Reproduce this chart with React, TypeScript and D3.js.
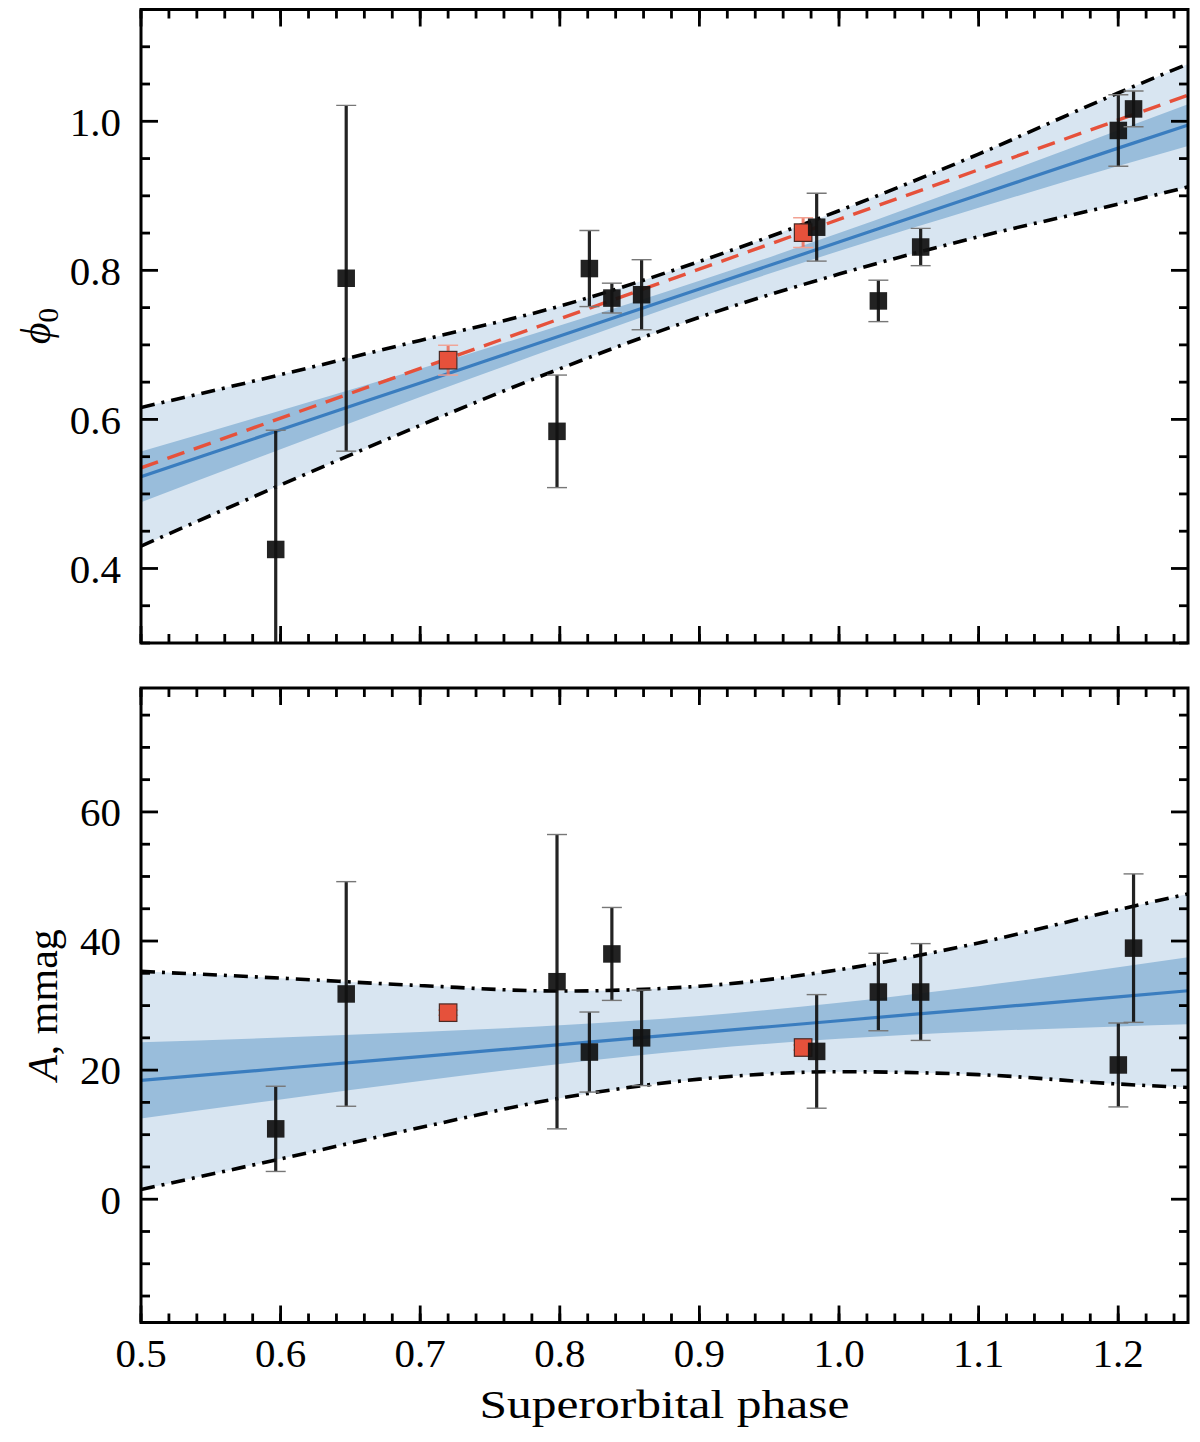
import { useEffect } from 'react';
import * as d3 from 'd3';

// measured points (black): phase, phi0 and amplitude with errors
const phase = [0.5965, 0.647, 0.798, 0.8212, 0.8373, 0.8586, 0.984, 1.0282, 1.0585, 1.2001, 1.211];
const phi0 = [0.4255, 0.7894, 0.584, 0.8024, 0.7628, 0.7673, 0.8579, 0.759, 0.8313, 0.9877, 1.0166];
const phi0Err = [0.16, 0.232, 0.0755, 0.051, 0.02, 0.047, 0.0455, 0.0278, 0.025, 0.048, 0.024];
const amp = [10.9, 31.8, 33.7, 22.8, 38.0, 25.0, 22.9, 32.1, 32.1, 20.8, 38.9];
const ampErr = [6.6, 17.4, 22.8, 6.2, 7.2, 7.4, 8.8, 6.0, 7.5, 6.5, 11.5];

// red points
const phaseRed = [0.72, 0.9743];
const phi0Red = [0.6795, 0.8506];
const phi0RedErr = [0.02, 0.02];
const ampRed = [28.9, 23.5];
const ampRedErr = [0.4, 0.4];

// fitted line and bands, read at these phases
const bandPhase = [0.5, 0.6, 0.7, 0.8, 0.9, 1.0, 1.1, 1.2, 1.25];
const phiFit = [0.523, 0.586, 0.649, 0.712, 0.775, 0.838, 0.901, 0.964, 0.995];
const phiInnerHi = [0.557, 0.612, 0.668, 0.726, 0.786, 0.85, 0.918, 0.988, 1.023];
const phiInnerLo = [0.489, 0.56, 0.63, 0.698, 0.764, 0.826, 0.884, 0.94, 0.967];
const phiOuterHi = [0.616, 0.66, 0.706, 0.752, 0.812, 0.88, 0.956, 1.038, 1.077];
const phiOuterLo = [0.43, 0.512, 0.592, 0.668, 0.737, 0.795, 0.845, 0.889, 0.912];
const redFitPhase = [0.5, 1.25];
const phiRedFit = [0.535, 1.035];

const ampFit = [18.4, 20.25, 22.1, 23.95, 25.8, 27.65, 29.5, 31.35, 32.3];
const ampInnerHi = [24.3, 25.05, 25.9, 26.95, 28.4, 30.45, 33.0, 35.95, 37.5];
const ampInnerLo = [12.5, 15.45, 18.3, 20.95, 23.2, 24.85, 26.0, 26.75, 27.1];
const ampOuterHi = [35.3, 34.25, 33.1, 32.25, 33.0, 35.55, 39.7, 44.85, 47.3];
const ampOuterLo = [1.5, 6.25, 11.1, 15.65, 18.6, 19.75, 19.3, 17.85, 17.3];

const phiMajor = [0.4, 0.6, 0.8, 1.0];
const ampMajor = [0, 20, 40, 60];

const W = 1200;
const H = 1442;
const LEFT = 141;
const RIGHT = 1188;
const FONT = '"Liberation Serif", "DejaVu Serif", serif';

const LIGHT = '#d8e5f1';
const DARK = '#99bddb';
const BLUE = '#3a7dbf';
const RED = '#e6513b';

const x = d3.scaleLinear().domain([0.5, 1.25]).range([LEFT, RIGHT]);
const xMajor = x.ticks(8);
const xMinor = d3.range(0.5, 1.2501, 0.02);

type PanelProps = {
  id: string;
  top: number;
  bottom: number;
  domain: [number, number];
  major: number[];
  minorStep: number;
  fmt: (v: number) => string;
  fit: number[];
  innerHi: number[];
  innerLo: number[];
  outerHi: number[];
  outerLo: number[];
  ys: number[];
  yErr: number[];
  redYs: number[];
  redErr: number[];
  redFit?: number[];
  showX: boolean;
};

function Panel(p: PanelProps) {
  const y = d3.scaleLinear().domain(p.domain).range([p.bottom, p.top]);
  const minor = d3
    .range(Math.ceil(p.domain[0] / p.minorStep) * p.minorStep, p.domain[1], p.minorStep)
    .filter((v) => !p.major.some((m) => Math.abs(m - v) < 1e-6));

  const line = d3
    .line<number>()
    .x((_, i) => x(bandPhase[i]))
    .y((d) => y(d))
    .curve(d3.curveMonotoneX);
  const area = (hi: number[], lo: number[]) =>
    d3
      .area<number>()
      .x((_, i) => x(bandPhase[i]))
      .y0((_, i) => y(lo[i]))
      .y1((d) => y(d))
      .curve(d3.curveMonotoneX)(hi) || '';

  const redLine = d3
    .line<number>()
    .x((_, i) => x(redFitPhase[i]))
    .y((d) => y(d));

  const cap = 10;
  const sq = 17.5;

  return (
    <g>
      <defs>
        <clipPath id={`clip-${p.id}`}>
          <rect x={LEFT} y={p.top} width={RIGHT - LEFT} height={p.bottom - p.top} />
        </clipPath>
      </defs>
      <g clipPath={`url(#clip-${p.id})`}>
        <path d={area(p.outerHi, p.outerLo)} fill={LIGHT} />
        <path d={area(p.innerHi, p.innerLo)} fill={DARK} />
        <path d={line(p.fit) || ''} fill="none" stroke={BLUE} strokeWidth={3.2} />
        {p.redFit && (
          <path d={redLine(p.redFit) || ''} fill="none" stroke={RED} strokeWidth={3.4} strokeDasharray="18,10" />
        )}
        <path d={line(p.outerHi) || ''} fill="none" stroke="#000" strokeWidth={3.6} strokeDasharray="14,7,3,7" />
        <path d={line(p.outerLo) || ''} fill="none" stroke="#000" strokeWidth={3.6} strokeDasharray="14,7,3,7" />

        {p.redYs.map((v, i) => {
          const cx = x(phaseRed[i]);
          const y1 = y(v + p.redErr[i]);
          const y0 = y(v - p.redErr[i]);
          return (
            <g key={`r${i}`}>
              <line x1={cx} x2={cx} y1={y1} y2={y0} stroke="#ee6a55" strokeWidth={3} opacity={0.85} />
              <line x1={cx - cap} x2={cx + cap} y1={y1} y2={y1} stroke="#f2a293" strokeWidth={1.4} />
              <line x1={cx - cap} x2={cx + cap} y1={y0} y2={y0} stroke="#f2a293" strokeWidth={1.4} />
              <rect x={cx - sq / 2} y={y(v) - sq / 2} width={sq} height={sq} fill={RED} stroke="#4a2a25" strokeWidth={1.2} />
            </g>
          );
        })}

        {p.ys.map((v, i) => {
          const cx = x(phase[i]);
          const y1 = y(v + p.yErr[i]);
          const y0 = y(v - p.yErr[i]);
          return (
            <g key={`b${i}`}>
              <line x1={cx} x2={cx} y1={y1} y2={y0} stroke="#111" strokeWidth={3.2} opacity={0.92} />
              <line x1={cx - cap} x2={cx + cap} y1={y1} y2={y1} stroke="#777" strokeWidth={1.4} />
              <line x1={cx - cap} x2={cx + cap} y1={y0} y2={y0} stroke="#777" strokeWidth={1.4} />
              <rect x={cx - sq / 2} y={y(v) - sq / 2} width={sq} height={sq} fill="#111" opacity={0.93} />
            </g>
          );
        })}
      </g>

      {/* ticks, pointing inwards on every side */}
      <g stroke="#000" strokeWidth={2.8}>
        {xMajor.map((t) => (
          <g key={`xm${t}`}>
            <line x1={x(t)} x2={x(t)} y1={p.bottom} y2={p.bottom - 17} />
            <line x1={x(t)} x2={x(t)} y1={p.top} y2={p.top + 17} />
          </g>
        ))}
        {xMinor.map((t) => (
          <g key={`xn${t}`}>
            <line x1={x(t)} x2={x(t)} y1={p.bottom} y2={p.bottom - 9} />
            <line x1={x(t)} x2={x(t)} y1={p.top} y2={p.top + 9} />
          </g>
        ))}
        {p.major.map((t) => (
          <g key={`ym${t}`}>
            <line x1={LEFT} x2={LEFT + 17} y1={y(t)} y2={y(t)} />
            <line x1={RIGHT} x2={RIGHT - 17} y1={y(t)} y2={y(t)} />
          </g>
        ))}
        {minor.map((t) => (
          <g key={`yn${t}`}>
            <line x1={LEFT} x2={LEFT + 9} y1={y(t)} y2={y(t)} />
            <line x1={RIGHT} x2={RIGHT - 9} y1={y(t)} y2={y(t)} />
          </g>
        ))}
      </g>
      <rect x={LEFT} y={p.top} width={RIGHT - LEFT} height={p.bottom - p.top} fill="none" stroke="#000" strokeWidth={3} />

      <g fontFamily={FONT} fontSize={41} fill="#000">
        {p.major.map((t) => (
          <text key={`yl${t}`} x={121} y={y(t)} dy="0.35em" textAnchor="end">
            {p.fmt(t)}
          </text>
        ))}
        {p.showX &&
          xMajor.map((t) => (
            <text key={`xl${t}`} x={x(t)} y={1367} textAnchor="middle">
              {d3.format('.1f')(t)}
            </text>
          ))}
      </g>
    </g>
  );
}

export default function App() {
  useEffect(() => {
    document.body.style.margin = '0';
  }, []);

  return (
    <svg width={W} height={H} viewBox={`0 0 ${W} ${H}`} style={{ display: 'block', background: '#fff' }}>
      <Panel
        id="phi"
        top={9.5}
        bottom={643}
        domain={[0.3, 1.15]}
        major={phiMajor}
        minorStep={0.05}
        fmt={d3.format('.1f')}
        fit={phiFit}
        innerHi={phiInnerHi}
        innerLo={phiInnerLo}
        outerHi={phiOuterHi}
        outerLo={phiOuterLo}
        ys={phi0}
        yErr={phi0Err}
        redYs={phi0Red}
        redErr={phi0RedErr}
        redFit={phiRedFit}
        showX={false}
      />
      <Panel
        id="amp"
        top={688}
        bottom={1322.5}
        domain={[-19.1, 79.2]}
        major={ampMajor}
        minorStep={5}
        fmt={d3.format('d')}
        fit={ampFit}
        innerHi={ampInnerHi}
        innerLo={ampInnerLo}
        outerHi={ampOuterHi}
        outerLo={ampOuterLo}
        ys={amp}
        yErr={ampErr}
        redYs={ampRed}
        redErr={ampRedErr}
        showX={true}
      />

      <g fontFamily={FONT} fill="#000">
        <text transform="translate(50,326) rotate(-90)" textAnchor="middle" fontSize={42}>
          <tspan fontStyle="italic">ϕ</tspan>
          <tspan fontSize={29} dy={8}>0</tspan>
        </text>
        <text transform="translate(57,1005) rotate(-90)" textAnchor="middle" fontSize={42}>
          <tspan fontStyle="italic">A</tspan>
          <tspan>, mmag</tspan>
        </text>
        <text x={664.5} y={1418} textAnchor="middle" fontSize={40} textLength={370} lengthAdjust="spacingAndGlyphs">
          Superorbital phase
        </text>
      </g>
    </svg>
  );
}
